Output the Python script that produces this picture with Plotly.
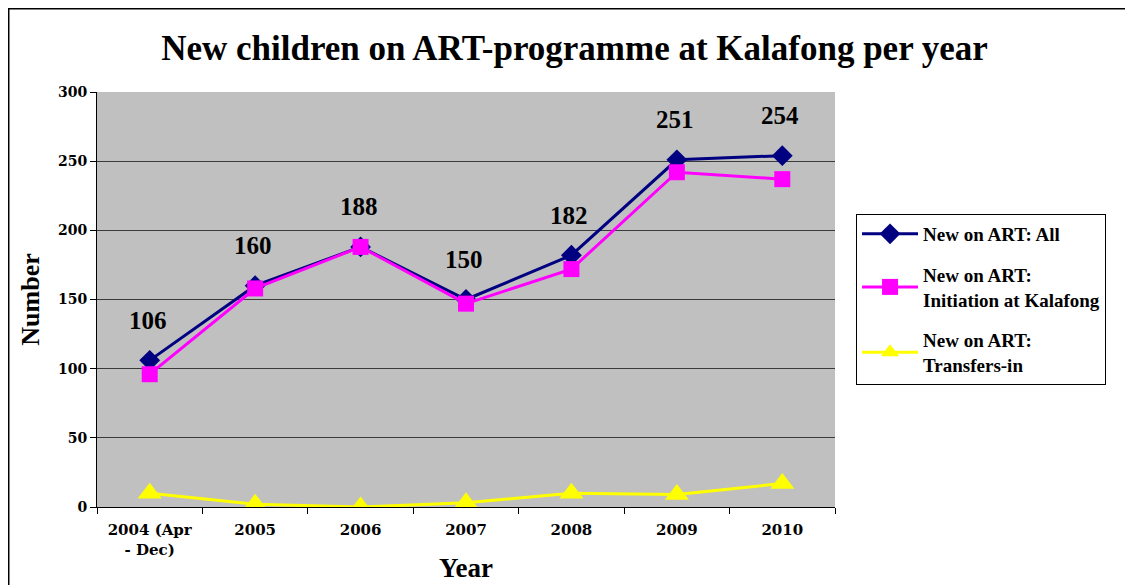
import plotly.graph_objects as go

years = ["2004 (Apr<br>- Dec)", "2005", "2006", "2007", "2008", "2009", "2010"]
all_new = [106, 160, 188, 150, 182, 251, 254]
initiation = [96, 158, 188, 147, 172, 242, 237]
transfers = [10, 2, 0, 3, 10, 9, 17]
yticks = [0, 50, 100, 150, 200, 250, 300]

FONT = "Liberation Serif"
TICKFONT = "DejaVu Serif"
xi = list(range(len(years)))
bounds = [i - 0.5 for i in range(len(years) + 1)]

fig = go.Figure()
fig.add_trace(go.Scatter(
    x=xi, y=all_new, mode="lines+markers", name="New on ART: All",
    legendgroup="a",
    line=dict(color="#000080", width=3),
    marker=dict(symbol="diamond", size=16, color="#000080")))
fig.add_trace(go.Scatter(
    x=xi, y=initiation, mode="lines+markers",
    name="New on ART:<br>Initiation at Kalafong", legendgroup="b",
    line=dict(color="#FF00FF", width=3),
    marker=dict(symbol="square", size=16, color="#FF00FF")))
fig.add_trace(go.Scatter(
    x=xi, y=transfers, mode="lines+markers",
    name="New on ART:<br>Transfers-in", legendgroup="c",
    line=dict(color="#FFFF00", width=3),
    marker=dict(symbol="triangle-up", size=21, color="#FFFF00")))

for xv, yv in zip(xi, all_new):
    fig.add_annotation(x=xv, y=yv, text=str(yv), showarrow=False,
                       yshift=40, xshift=-2,
                       font=dict(family=FONT, size=25, color="black", weight="bold"))

fig.add_shape(type="rect", xref="paper", yref="paper",
              x0=-0.1196, x1=1.6, y0=-0.4, y1=1.2006,
              line=dict(color="black", width=1.5), layer="below")

fig.update_layout(
    width=1133, height=585,
    margin=dict(l=89, r=306, t=84, b=86, autoexpand=False),
    paper_bgcolor="white", plot_bgcolor="#C0C0C0",
    title=dict(text="New children on ART-programme at Kalafong per year",
               x=0.5, xanchor="center", y=0.932, yanchor="middle",
               font=dict(family=FONT, size=35, color="black", weight="bold")),
    font=dict(family=FONT, color="black"),
    showlegend=True,
    legend=dict(x=1.0285, y=0.706, xanchor="left", yanchor="top",
                bordercolor="black", borderwidth=1, bgcolor="white",
                font=dict(family=FONT, size=19, color="black", weight="bold"),
                itemwidth=56, tracegroupgap=13),
    xaxis=dict(range=[-0.5, len(years) - 0.5], tickvals=xi, ticktext=years,
               ticks="", showline=True, linecolor="black",
               linewidth=1, showgrid=False, zeroline=False,
               ticklabelstandoff=9,
               minor=dict(tickvals=bounds, ticks="outside", ticklen=6,
                          tickcolor="black", showgrid=False),
               tickfont=dict(family=TICKFONT, size=15, color="black", weight="bold"),
               title=dict(text="Year", font=dict(family=FONT, size=27, weight="bold"),
                          standoff=0)),
    yaxis=dict(range=[0, 300], tickvals=yticks, ticks="outside", ticklen=6,
               tickcolor="black", showline=True, linecolor="black", linewidth=1,
               showgrid=True, gridcolor="#3a3a3a", gridwidth=1, zeroline=False,
               tickfont=dict(family=TICKFONT, size=14, color="black", weight="bold"),
               title=dict(text="Number", font=dict(family=FONT, size=26, weight="bold"),
                          standoff=10)),
)

fig.write_html("out.html")
